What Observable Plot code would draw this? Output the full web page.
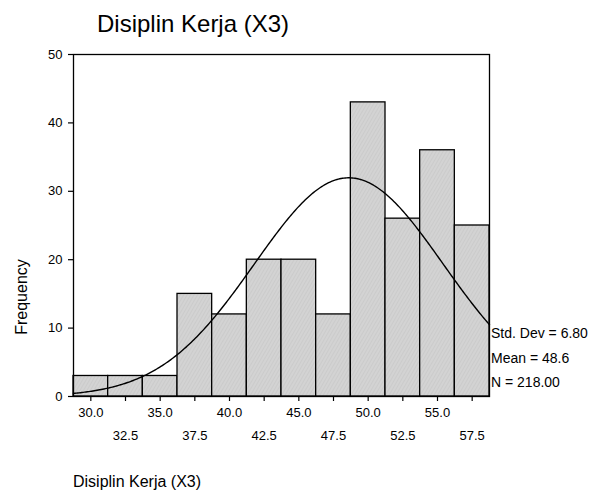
<!DOCTYPE html>
<html>
<head>
<meta charset="utf-8">
<script src="https://cdn.jsdelivr.net/npm/d3@7"></script>
<script src="https://cdn.jsdelivr.net/npm/@observablehq/plot@0.6"></script>
<style>
  html, body { margin: 0; padding: 0; background: white; }
  #wrap { position: relative; width: 600px; height: 496px; font-family: "Liberation Sans", Arial, sans-serif; color: black; }
  .t { position: absolute; white-space: nowrap; line-height: 1; }
</style>
</head>
<body>
<div id="wrap">
  <div class="t" style="left:97px; top:12px; font-size:24px;">Disiplin Kerja (X3)</div>
  <div class="t" style="left:22px; top:297px; font-size:16px; transform: translate(-50%,-50%) rotate(-90deg);">Frequency</div>
  <div class="t" style="left:491px; top:326px; font-size:14px;">Std. Dev = 6.80</div>
  <div class="t" style="left:491px; top:351px; font-size:14px;">Mean = 48.6</div>
  <div class="t" style="left:491px; top:375px; font-size:14px;">N = 218.00</div>
  <div class="t" style="left:73px; top:474px; font-size:16px;">Disiplin Kerja (X3)</div>
</div>
<script>
// Data
const binCenters = [30, 32.5, 35, 37.5, 40, 42.5, 45, 47.5, 50, 52.5, 55, 57.5];
const frequencies = [3, 3, 3, 15, 12, 20, 20, 12, 43, 26, 36, 25];
const binWidth = 2.5;
const statMean = 48.6;
const statSD = 6.80;
const statN = 218;
const yTicks = [0, 10, 20, 30, 40, 50];
const xTicksRow1 = [30, 35, 40, 45, 50, 55];
const xTicksRow2 = [32.5, 37.5, 42.5, 47.5, 52.5, 57.5];

const rows = binCenters.map((c, i) => ({x1: c - binWidth / 2, x2: c + binWidth / 2, freq: frequencies[i]}));
const xMin = binCenters[0] - binWidth / 2;
const xMax = binCenters[binCenters.length - 1] + binWidth / 2;

// Fitted normal curve from the displayed statistics (N * binWidth * pdf)
const curve = d3.range(xMin, xMax + 0.001, 0.1).map(x => ({
  x,
  y: statN * binWidth * Math.exp(-0.5 * ((x - statMean) / statSD) ** 2) / (statSD * Math.sqrt(2 * Math.PI))
}));

const fmt = d => d.toFixed(1);

const chart = Plot.plot({
  width: 600,
  height: 496,
  marginTop: 54,
  marginBottom: 100,
  marginLeft: 73,
  marginRight: 111,
  x: {domain: [xMin, xMax]},
  y: {domain: [0, 50]},
  style: {fontFamily: "'Liberation Sans', Arial, sans-serif", fontSize: "13px", color: "black", background: "transparent", overflow: "visible"},
  marks: [
    Plot.rectY(rows, {x1: "x1", x2: "x2", y: "freq", fill: "url(#hatch)", stroke: "black", strokeWidth: 1.3}),
    Plot.line(curve, {x: "x", y: "y", stroke: "black", strokeWidth: 1.4}),
    Plot.frame({stroke: "black", strokeWidth: 1.3}),
    Plot.axisY({ticks: yTicks, tickSize: 5, tickPadding: 6, label: null, strokeWidth: 1.2}),
    Plot.axisX({ticks: xTicksRow1, tickSize: 5, tickPadding: 6, tickFormat: fmt, label: null, strokeWidth: 1.2}),
    Plot.axisX({ticks: xTicksRow2, tickSize: 5, tickPadding: 29, tickFormat: fmt, label: null, strokeWidth: 1.2})
  ]
});

// hatch pattern definition
const ns = "http://www.w3.org/2000/svg";
const defs = document.createElementNS(ns, "defs");
defs.innerHTML = `<pattern id="hatch" patternUnits="userSpaceOnUse" width="3" height="3" patternTransform="rotate(30)">
  <rect width="3" height="3" fill="#d3d3d3"></rect>
  <line x1="0" y1="0" x2="0" y2="3" stroke="#bfbfbf" stroke-width="0.8"></line>
</pattern>`;
chart.insertBefore(defs, chart.firstChild);
chart.style.position = "absolute";
chart.style.left = "0";
chart.style.top = "0";
document.getElementById("wrap").prepend(chart);
</script>
</body>
</html>
